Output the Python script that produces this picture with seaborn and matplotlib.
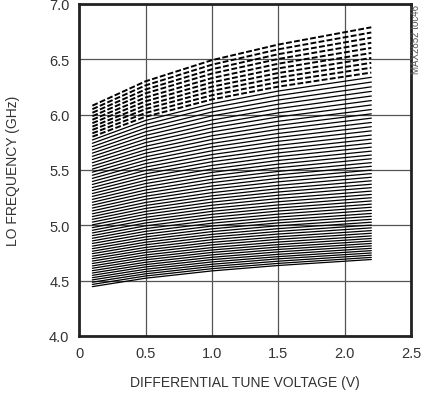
"""
LO frequency vs differential tune voltage, one curve per VCO sub-band.
"""

import numpy as np
import pandas as pd
import matplotlib
matplotlib.use("Agg")
import matplotlib.pyplot as plt
import seaborn as sns


# tune voltage points (V) where each band curve is read
tune_v = [0.1, 0.5, 1.0, 1.5, 2.2]

# LO frequency (GHz) of the 64 bands, lowest band first, at each tune voltage
freq_at_0p1 = [
    4.445, 4.465, 4.485, 4.506, 4.526, 4.547, 4.568, 4.589, 4.611, 4.632,
    4.654, 4.676, 4.698, 4.720, 4.743, 4.765, 4.788, 4.811, 4.835, 4.858,
    4.882, 4.906, 4.930, 4.954, 4.978, 5.003, 5.028, 5.053, 5.078, 5.103,
    5.129, 5.155, 5.181, 5.207, 5.233, 5.260, 5.286, 5.313, 5.340, 5.368,
    5.395, 5.423, 5.451, 5.479, 5.507, 5.535, 5.564, 5.593, 5.622, 5.651,
    5.680, 5.710, 5.740, 5.770, 5.800, 5.830, 5.861, 5.891, 5.922, 5.953,
    5.985, 6.016, 6.048, 6.080,
]
freq_at_0p5 = [
    4.521, 4.541, 4.561, 4.581, 4.602, 4.623, 4.644, 4.665, 4.687, 4.709,
    4.731, 4.754, 4.776, 4.799, 4.823, 4.846, 4.870, 4.894, 4.919, 4.944,
    4.969, 4.994, 5.020, 5.045, 5.071, 5.098, 5.124, 5.151, 5.178, 5.205,
    5.234, 5.261, 5.290, 5.318, 5.347, 5.376, 5.405, 5.435, 5.464, 5.495,
    5.525, 5.556, 5.587, 5.618, 5.650, 5.681, 5.713, 5.746, 5.778, 5.811,
    5.844, 5.877, 5.911, 5.946, 5.980, 6.014, 6.049, 6.083, 6.119, 6.154,
    6.191, 6.226, 6.263, 6.300,
]
freq_at_1p0 = [
    4.587, 4.607, 4.627, 4.647, 4.668, 4.689, 4.710, 4.732, 4.754, 4.776,
    4.798, 4.822, 4.845, 4.869, 4.893, 4.917, 4.942, 4.967, 4.992, 5.018,
    5.044, 5.071, 5.098, 5.125, 5.152, 5.180, 5.208, 5.237, 5.265, 5.294,
    5.325, 5.354, 5.385, 5.415, 5.446, 5.477, 5.508, 5.540, 5.573, 5.605,
    5.638, 5.672, 5.706, 5.739, 5.774, 5.808, 5.843, 5.879, 5.914, 5.950,
    5.987, 6.023, 6.061, 6.098, 6.136, 6.174, 6.213, 6.251, 6.290, 6.329,
    6.370, 6.409, 6.450, 6.491,
]
freq_at_1p5 = [
    4.636, 4.655, 4.675, 4.696, 4.716, 4.737, 4.759, 4.781, 4.803, 4.825,
    4.848, 4.872, 4.895, 4.920, 4.944, 4.969, 4.995, 5.021, 5.046, 5.073,
    5.100, 5.128, 5.155, 5.183, 5.212, 5.241, 5.271, 5.300, 5.330, 5.360,
    5.392, 5.423, 5.455, 5.486, 5.519, 5.552, 5.585, 5.619, 5.653, 5.687,
    5.722, 5.758, 5.793, 5.829, 5.866, 5.902, 5.939, 5.978, 6.015, 6.054,
    6.093, 6.131, 6.171, 6.212, 6.252, 6.293, 6.334, 6.375, 6.417, 6.459,
    6.502, 6.545, 6.589, 6.632,
]
freq_at_2p2 = [
    4.690, 4.709, 4.729, 4.749, 4.770, 4.791, 4.813, 4.835, 4.857, 4.880,
    4.903, 4.927, 4.951, 4.976, 5.001, 5.027, 5.053, 5.080, 5.106, 5.134,
    5.162, 5.190, 5.219, 5.248, 5.278, 5.308, 5.339, 5.370, 5.401, 5.433,
    5.466, 5.498, 5.532, 5.565, 5.600, 5.634, 5.669, 5.705, 5.741, 5.777,
    5.814, 5.852, 5.890, 5.928, 5.967, 6.006, 6.045, 6.086, 6.126, 6.167,
    6.209, 6.250, 6.293, 6.336, 6.379, 6.423, 6.467, 6.511, 6.556, 6.602,
    6.648, 6.694, 6.741, 6.788,
]

# the top 10 bands are drawn dashed
n_dashed = 10

x_ticks = [0, 0.5, 1.0, 1.5, 2.0, 2.5]
x_labels = ["0", "0.5", "1.0", "1.5", "2.0", "2.5"]
y_ticks = [4.0, 4.5, 5.0, 5.5, 6.0, 6.5, 7.0]
y_labels = ["4.0", "4.5", "5.0", "5.5", "6.0", "6.5", "7.0"]


cols = [freq_at_0p1, freq_at_0p5, freq_at_1p0, freq_at_1p5, freq_at_2p2]
n_bands = len(freq_at_0p1)
rows = []
for band in range(n_bands):
    kind = "dashed" if band >= n_bands - n_dashed else "solid"
    for v, col in zip(tune_v, cols):
        rows.append({"band": band, "v": v, "f": col[band], "kind": kind})
df = pd.DataFrame(rows)

sns.set_style("white")
plt.rcParams["font.family"] = ["Liberation Sans Narrow", "Liberation Sans", "DejaVu Sans"]

fig = plt.figure(figsize=(4.23, 4.02), dpi=100)
ax = fig.add_axes([0.187, 0.162, 0.785, 0.826])

sns.lineplot(
    data=df, x="v", y="f", units="band", estimator=None,
    style="kind", dashes={"solid": "", "dashed": (3.0, 1.2)},
    size="kind", sizes={"solid": 0.9, "dashed": 1.4},
    color="black", legend=False, ax=ax,
)

ax.set_xlim(0, 2.5)
ax.set_ylim(4.0, 7.0)
ax.set_xticks(x_ticks)
ax.set_xticklabels(x_labels)
ax.set_yticks(y_ticks)
ax.set_yticklabels(y_labels)
ax.grid(True, color="#555555", linewidth=0.9)
ax.set_axisbelow(True)
ax.tick_params(axis="both", length=0, pad=7, labelsize=10.5, labelcolor="#333333")

for s in ax.spines.values():
    s.set_visible(True)
    s.set_color("#222222")
    s.set_linewidth(2.0)

ax.set_xlabel("DIFFERENTIAL TUNE VOLTAGE (V)", fontsize=10, color="#333333")
ax.set_ylabel("LO FREQUENCY (GHz)", fontsize=10, color="#333333")
ax.xaxis.set_label_coords(0.5, -0.117)
ax.yaxis.set_label_coords(-0.178, 0.5)

fig.text(0.983, 0.988, "MAX2852 toc46", rotation=90, ha="center", va="top",
         fontsize=7, color="#555555")

fig.savefig("out.png", dpi=100)
plt.close(fig)
